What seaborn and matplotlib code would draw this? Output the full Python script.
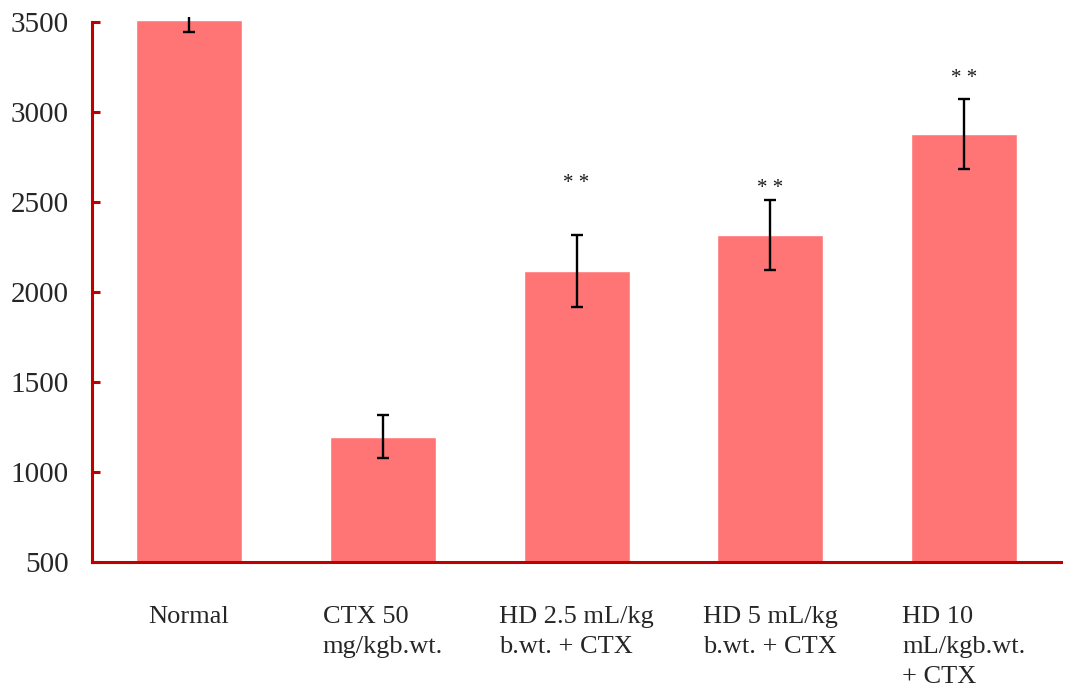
import matplotlib
matplotlib.use("Agg")
import matplotlib.pyplot as plt
import seaborn as sns
import pandas as pd

# ── Data ──────────────────────────────────────────────────────────────────────
groups = [
    "Normal",
    "CTX 50\nmg/kgb.wt.",
    "HD 2.5 mL/kg\nb.wt. + CTX",
    "HD 5 mL/kg\nb.wt. + CTX",
    "HD 10\nmL/kgb.wt.\n+ CTX",
]
means = [3511, 1195, 2115, 2318, 2878]
errors = [65, 120, 200, 193, 192]
sig_marks = ["", "", "* *", "* *", "* *"]
sig_levels = [None, None, 2628, 2598, 3211]
y_ticks = [500, 1000, 1500, 2000, 2500, 3000, 3500]

# ── Style ─────────────────────────────────────────────────────────────────────
_BAR = "#FF7575"
_AXIS = "#C00000"

sns.set_style("white")
plt.rcParams["font.family"] = ["Liberation Serif", "DejaVu Serif"]

df = pd.DataFrame({"group": groups, "value": means})

fig = plt.figure(figsize=(10.69, 6.95), dpi=100)
ax = fig.add_axes([0.0861, 0.1914, 0.9064, 0.7841])

sns.barplot(data=df, x="group", y="value", color=_BAR, saturation=1,
            width=0.547, errorbar=None, ax=ax)

ax.errorbar(range(len(groups)), means, yerr=errors, fmt="none",
            ecolor="black", elinewidth=1.7, capsize=4.5, capthick=1.7)

for i, (mark, lvl) in enumerate(zip(sig_marks, sig_levels)):
    if mark:
        ax.annotate(mark, (i, lvl), xytext=(0, -3), textcoords="offset points",
                    ha="center", va="center", fontsize=15, color="#1a1a1a")

ax.set_xlim(-0.5, 4.5)
ax.set_ylim(500, 3528)
ax.set_yticks(y_ticks)
ax.set_xlabel("")
ax.set_ylabel("")

for side in ("top", "right"):
    ax.spines[side].set_visible(False)
ax.spines["left"].set_bounds(500, 3500)
for side in ("left", "bottom"):
    ax.spines[side].set_color(_AXIS)
    ax.spines[side].set_linewidth(2.2)

ax.tick_params(axis="y", direction="in", length=6, width=2.2, color=_AXIS,
               labelsize=21, pad=17, left=True)
ax.tick_params(axis="x", length=0, labelsize=19, pad=32)
for lbl in ax.get_xticklabels():
    lbl.set_multialignment("left")
    lbl.set_linespacing(1.45)

plt.savefig("out.png", dpi=100, facecolor="white")
plt.close()
